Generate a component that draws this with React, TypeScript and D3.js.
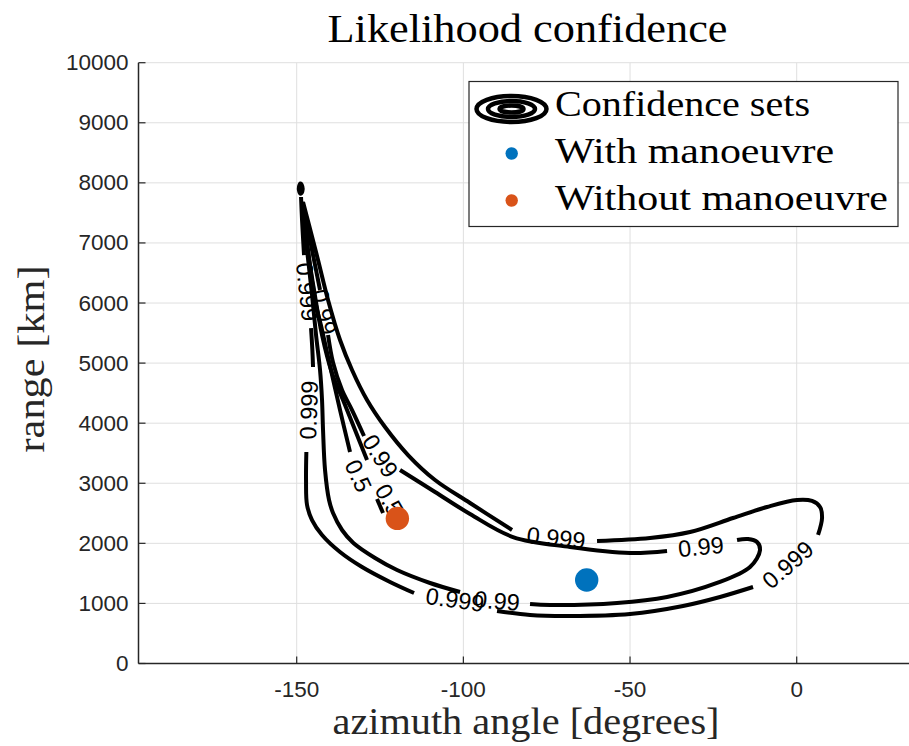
import React from 'react';
import * as d3 from 'd3';

// ---------- data ----------
const xTicks = [-150, -100, -50, 0];
const yTicks = [0, 1000, 2000, 3000, 4000, 5000, 6000, 7000, 8000, 9000, 10000];

// contour lines [azimuth deg, range km]; each inner array is one drawn piece (gaps hold labels)
const contourIsland: [number, number][] = [
  [-149.3, 7940], [-148.9, 7990], [-148.3, 7940], [-148.3, 7860], [-148.9, 7820], [-149.3, 7870],
];

const contour999: [number, number][][] = [
  [[-148.7, 7765], [-148.4, 7382], [-147.8, 6799]],
  [[-145.7, 5584], [-145.3, 5218], [-145.1, 4935]],
  [[-147.1, 3520], [-147.2, 3054], [-146.9, 2638], [-145.4, 2388], [-142.4, 2139], [-137.0, 1856],
   [-130.4, 1606], [-122.0, 1357], [-114.8, 1173]],
  [[-89.9, 874], [-80.0, 807], [-68.0, 791], [-50.0, 824], [-34.1, 957], [-23.0, 1107], [-13.1, 1273]],
  [[6.4, 2139], [7.6, 2422], [7.0, 2605], [4.6, 2705], [0.1, 2721], [-8.9, 2605], [-19.1, 2422],
   [-32.0, 2189], [-44.0, 2089], [-59.9, 2039]],
  [[-85.4, 2222], [-98.0, 2671], [-108.5, 3054], [-116.6, 3470], [-123.5, 3936], [-128.9, 4386],
   [-133.4, 4885], [-137.0, 5384], [-140.6, 6050], [-143.6, 6716], [-146.3, 7298], [-148.1, 7681]],
];

const contour99: [number, number][][] = [
  [[-148.4, 7631], [-146.9, 6882], [-145.4, 6133], [-144.2, 5468], [-143.0, 4885], [-142.4, 4386],
   [-142.1, 3886], [-141.5, 3221], [-140.3, 2721], [-139.1, 2505], [-136.4, 2222], [-133.0, 2006],
   [-126.5, 1756], [-119.9, 1556], [-110.0, 1340], [-101.0, 1190]],
  [[-80.0, 990], [-74.0, 974], [-53.9, 1007], [-38.9, 1107], [-23.9, 1340], [-14.0, 1606],
   [-11.0, 1889], [-11.9, 2022], [-14.6, 2072], [-17.9, 2056]],
  [[-38.9, 1872], [-50.0, 1839], [-68.0, 1939], [-85.1, 2105], [-98.0, 2488], [-108.5, 2854],
   [-119.0, 3221]],
  [[-129.8, 3787], [-133.4, 4219], [-136.4, 4552], [-139.1, 5010], [-140.6, 5468]],
  [[-143.0, 6217], [-145.4, 6882], [-147.5, 7465], [-148.4, 7681]],
];

const contour05: [number, number][][] = [
  [[-148.1, 7631], [-146.6, 6882], [-144.5, 6050], [-142.4, 5551], [-140.6, 5101], [-137.0, 4219],
   [-134.0, 3520]],
  [[-125.9, 2738], [-124.1, 2505]],
  [[-128.9, 3387], [-132.5, 3886], [-136.1, 4386], [-139.4, 4835], [-142.4, 5468], [-144.8, 6217],
   [-146.9, 6966], [-148.1, 7548]],
];

const labelTexts = ['0.999', '0.999', '0.999', '0.999', '0.999', '0.99', '0.99', '0.99', '0.99', '0.5', '0.5'];
const labelAz = [-146.9, -146.3, -102.5, -2.6, -72.2, -89.9, -28.7, -125.0, -141.8, -131.6, -122.3];
const labelRange = [6183, 4219, 1057, 1639, 2089, 1040, 1939, 3453, 5850, 3121, 2721];
const labelAngle = [84, -88, 8, -41, 6, 5, -6, 58, 78, 65, 60];

const withManoeuvre: [number, number] = [-63.0, 1390];
const withoutManoeuvre: [number, number] = [-119.8, 2415];

const legendLabels = ['Confidence sets', 'With manoeuvre', 'Without manoeuvre'];

// ---------- drawing ----------
const W = 909;
const H = 746;
const SANS = "'Liberation Sans', Arial, Helvetica, sans-serif";
const SERIF = "'Liberation Serif', 'Times New Roman', serif";
const AX = '#262626';
const GRID = '#dfdfdf';
const BLUE = '#0072BD';
const ORANGE = '#D95319';

export default function App() {
  const x = d3.scaleLinear().domain([-197.46, 50]).range([138.5, 963.37]);
  const y = d3.scaleLinear().domain([0, 10000]).range([663.5, 62.7]);
  const line = d3
    .line<[number, number]>()
    .x((d) => x(d[0]))
    .y((d) => y(d[1]))
    .curve(d3.curveCatmullRom.alpha(0.5));
  const closed = d3
    .line<[number, number]>()
    .x((d) => x(d[0]))
    .y((d) => y(d[1]))
    .curve(d3.curveCatmullRomClosed.alpha(0.5));

  const left = x.range()[0];
  const right = W + 20;
  const top = y(10000);
  const bottom = y(0);

  const allSegs = [...contour999, ...contour99, ...contour05];

  return (
    <svg
      width={W}
      height={H}
      viewBox={`0 0 ${W} ${H}`}
      style={{ position: 'absolute', left: 0, top: 0, background: '#fff' }}
    >
      <rect x={0} y={0} width={W} height={H} fill="#fff" />
      {/* grid */}
      {xTicks.map((t) => (
        <line key={'gx' + t} x1={x(t)} x2={x(t)} y1={top} y2={bottom} stroke={GRID} strokeWidth={1} />
      ))}
      {yTicks.map((t) => (
        <line key={'gy' + t} x1={left} x2={right} y1={y(t)} y2={y(t)} stroke={GRID} strokeWidth={1} />
      ))}

      {/* contours */}
      <g fill="none" stroke="#000" strokeWidth={4} strokeLinecap="butt" strokeLinejoin="round">
        {allSegs.map((s, i) => (
          <path key={'c' + i} d={line(s) || ''} />
        ))}
        <path d={closed(contourIsland) || ''} fill="#000" />
      </g>
      <g fontFamily={SANS} fontSize={23.5} fill="#000">
        {labelTexts.map((t, i) => (
          <text
            key={'l' + i}
            transform={`translate(${x(labelAz[i])},${y(labelRange[i])}) rotate(${labelAngle[i]})`}
            textAnchor="middle"
            dominantBaseline="central"
          >
            {t}
          </text>
        ))}
      </g>

      {/* points */}
      <circle cx={x(withManoeuvre[0])} cy={y(withManoeuvre[1])} r={11.7} fill={BLUE} />
      <circle cx={x(withoutManoeuvre[0])} cy={y(withoutManoeuvre[1])} r={11.7} fill={ORANGE} />

      {/* axes */}
      <line x1={left} x2={right} y1={bottom} y2={bottom} stroke={AX} strokeWidth={1.5} />
      <line x1={left} x2={left} y1={top} y2={bottom} stroke={AX} strokeWidth={1.5} />
      {xTicks.map((t) => (
        <g key={'xt' + t}>
          <line x1={x(t)} x2={x(t)} y1={bottom} y2={bottom - 7} stroke={AX} strokeWidth={1.2} />
          <text x={x(t)} y={bottom + 33} textAnchor="middle" fontFamily={SANS} fontSize={22.5} fill={AX}>
            {t}
          </text>
        </g>
      ))}
      {yTicks.map((t) => (
        <g key={'yt' + t}>
          <line x1={left} x2={left + 7} y1={y(t)} y2={y(t)} stroke={AX} strokeWidth={1.2} />
          <text
            x={left - 10}
            y={y(t)}
            textAnchor="end"
            dominantBaseline="central"
            fontFamily={SANS}
            fontSize={22.5}
            fill={AX}
          >
            {t}
          </text>
        </g>
      ))}

      {/* titles */}
      <text x={527.5} y={42} textAnchor="middle" fontFamily={SERIF} fontSize={41} fill="#000"
        textLength={400} lengthAdjust="spacingAndGlyphs">
        Likelihood confidence
      </text>
      <text x={526} y={734} textAnchor="middle" fontFamily={SERIF} fontSize={37} fill={AX}
        textLength={387} lengthAdjust="spacingAndGlyphs">
        azimuth angle [degrees]
      </text>
      <text transform={`translate(44,359) rotate(-90)`} textAnchor="middle" fontFamily={SERIF} fontSize={37}
        fill={AX} textLength={187} lengthAdjust="spacingAndGlyphs">
        range [km]
      </text>

      {/* legend */}
      <rect x={469} y={81.5} width={429} height={145} fill="#fff" stroke={AX} strokeWidth={1.2} />
      <g fill="none" stroke="#000" strokeWidth={4.5}>
        <ellipse cx={511.5} cy={109} rx={35} ry={13} />
        <ellipse cx={511.5} cy={109} rx={23.5} ry={8} />
        <ellipse cx={511.5} cy={109} rx={12} ry={3.5} />
      </g>
      <circle cx={511.7} cy={153.5} r={6.2} fill={BLUE} />
      <circle cx={511.7} cy={200.5} r={6.2} fill={ORANGE} />
      {legendLabels.map((t, i) => (
        <text key={'lg' + i} x={555} y={115.5 + i * 47} fontFamily={SERIF} fontSize={36} fill="#000"
          textLength={[255, 279, 333][i]} lengthAdjust="spacingAndGlyphs">
          {t}
        </text>
      ))}
    </svg>
  );
}
